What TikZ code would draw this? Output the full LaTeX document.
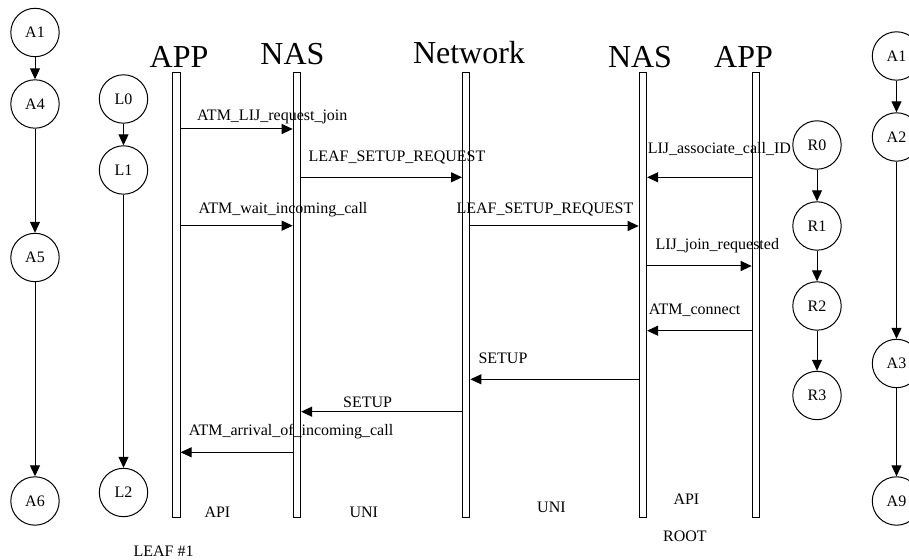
\documentclass[tikz,border=0pt]{standalone}
\usepackage{fontspec}
\setmainfont{Liberation Serif}
\usetikzlibrary{arrows.meta, positioning}

\begin{document}
\begin{tikzpicture}[
  x=0.5pt, y=-0.5pt, line width=0.5pt,
  state/.style={draw, circle, minimum size=24.2pt, inner sep=0pt, font=\fontsize{8}{9.6}\selectfont},
  lifeline/.style={draw, rectangle, minimum width=3.7pt, minimum height=222.2pt, inner sep=0pt},
  title/.style={anchor=base, inner sep=0pt, font=\fontsize{16}{19}\selectfont},
  lbl/.style={anchor=base west, inner sep=0pt, font=\fontsize{8}{9.6}\selectfont},
  arr/.style={-{Triangle[length=5.5pt, width=5pt]}}
]
  \useasboundingbox (0,0) rectangle (909,560);

  % lifelines and titles
  \node[lifeline] (appL) at (176.4,294.9) {};
  \node[lifeline] (nasL) at (296.9,294.9) {};
  \node[lifeline] (net)  at (466.2,294.9) {};
  \node[lifeline] (nasR) at (642.9,294.9) {};
  \node[lifeline] (appR) at (755.9,294.9) {};
  \node[title] (tAppL) at (179,68) {APP};
  \node[title] (tNasL) at (292.5,65) {NAS};
  \node[title] (tNet)  at (469,64) {Network};
  \node[title] (tNasR) at (640,68) {NAS};
  \node[title] (tAppR) at (743.5,68) {APP};

  % state machines
  \node[state] (a1) at (35,32.5) {A1};
  \node[state] (a4) at (35,104) {A4};
  \node[state] (a5) at (35,257.5) {A5};
  \node[state] (a6) at (35,501) {A6};
  \node[state] (l0) at (123.5,99) {L0};
  \node[state] (l1) at (123.5,170) {L1};
  \node[state] (l2) at (123.5,492.5) {L2};
  \node[state] (r0) at (817,145) {R0};
  \node[state] (r1) at (817,226) {R1};
  \node[state] (r2) at (817,306) {R2};
  \node[state] (r3) at (817,395.5) {R3};
  \node[state] (b1) at (896.5,56) {A1};
  \node[state] (b2) at (896.5,137) {A2};
  \node[state] (b3) at (896.5,363.5) {A3};
  \node[state] (b9) at (896.5,501) {A9};

  \draw[arr] (a1) -- (a4);
  \draw[arr] (a4) -- (a5);
  \draw[arr] (a5) -- (a6);
  \draw[arr] (l0) -- (l1);
  \draw[arr] (l1) -- (l2);
  \draw[arr] (r0) -- (r1);
  \draw[arr] (r1) -- (r2);
  \draw[arr] (r2) -- (r3);
  \draw[arr] (b1) -- (b2);
  \draw[arr] (b2) -- (b3);
  \draw[arr] (b3) -- (b9);

  % messages
  \draw[arr] (appL.east |- 0,129) -- (nasL.west |- 0,129);
  \node[lbl] (m1) at (196.7,120.7) {ATM\_LIJ\_request\_join};
  \draw[arr] (nasL.east |- 0,177.3) -- (net.west |- 0,177.3);
  \node[lbl] (m2) at (308,161.7) {LEAF\_SETUP\_REQUEST};
  \draw[arr] (appR.west |- 0,177.3) -- (nasR.east |- 0,177.3);
  \node[lbl] (m3) at (647.3,153.3) {LIJ\_associate\_call\_ID};
  \draw[arr] (appL.east |- 0,225.7) -- (nasL.west |- 0,225.7);
  \node[lbl] (m4) at (198,214) {ATM\_wait\_incoming\_call};
  \draw[arr] (net.east |- 0,226) -- (nasR.west |- 0,226);
  \node[lbl] (m5) at (456,214) {LEAF\_SETUP\_REQUEST};
  \draw[arr] (nasR.east |- 0,266) -- (appR.west |- 0,266);
  \node[lbl] (m6) at (655,250) {LIJ\_join\_requested};
  \draw[arr] (appR.west |- 0,330.7) -- (nasR.east |- 0,330.7);
  \node[lbl] (m7) at (648.3,315) {ATM\_connect};
  \draw[arr] (nasR.west |- 0,379.3) -- (net.east |- 0,379.3);
  \node[lbl] (m8) at (478,363.3) {SETUP};
  \draw[arr] (net.west |- 0,411.7) -- (nasL.east |- 0,411.7);
  \node[lbl] (m9) at (342.7,407.7) {SETUP};
  \draw[arr] (nasL.west |- 0,452.3) -- (appL.east |- 0,452.3);
  \node[lbl] (m10) at (188.3,436) {ATM\_arrival\_of\_incoming\_call};

  % interface labels
  \node[lbl] (api1) at (204,517) {API};
  \node[lbl] (uni1) at (349,517) {UNI};
  \node[lbl] (uni2) at (536.7,512.7) {UNI};
  \node[lbl] (api2) at (673,504) {API};
  \node[lbl] (root) at (662.7,541) {ROOT};
  \node[lbl] (leaf) at (133,556.7) {LEAF \#1};
\end{tikzpicture}
\end{document}
